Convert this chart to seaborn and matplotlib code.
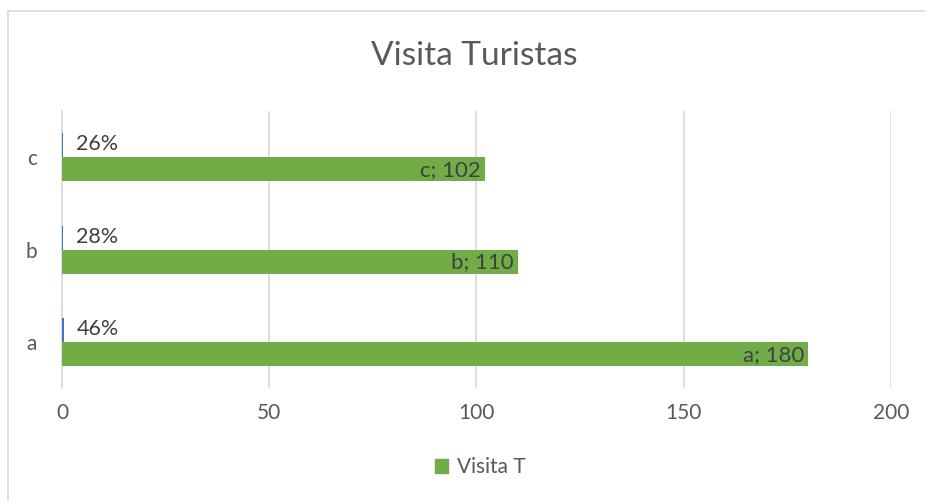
import pandas as pd
import matplotlib
matplotlib.use("Agg")
import matplotlib.pyplot as plt
import seaborn as sns
from matplotlib.patches import Patch, Rectangle

# datos del grafico
categorias = ["c", "b", "a"]
visitas = [102, 110, 180]
porcentajes = [0.26, 0.28, 0.46]
etiquetas_pct = ["26%", "28%", "46%"]

sns.set_style("white")
plt.rcParams["font.family"] = ["Lato", "DejaVu Sans"]

df = pd.DataFrame({
    "cat": categorias * 2,
    "valor": porcentajes + visitas,
    "serie": ["pct"] * 3 + ["Visita T"] * 3,
})

fig = plt.figure(figsize=(9.25, 5.01), dpi=100)
ax = fig.add_axes([62 / 925, 0.2255, (891 - 62) / 925, 0.7784 - 0.2255])

sns.barplot(data=df, y="cat", x="valor", hue="serie", order=categorias,
            hue_order=["pct", "Visita T"], palette=["#4472C4", "#70AD47"],
            orient="h", width=0.52, dodge=True, ax=ax, legend=False,
            saturation=1, linewidth=0)
for bar in ax.patches:
    bar.set_zorder(3)

ax.set_xlim(0, 200)
ax.set_ylim(2.5, -0.5)
ax.set_xticks([0, 50, 100, 150, 200])
ax.grid(axis="x", color="#d9d9d9", linewidth=1.2)
ax.set_axisbelow(True)
for s in ["top", "right", "bottom"]:
    ax.spines[s].set_visible(False)
ax.spines["left"].set_color("#d9d9d9")
ax.spines["left"].set_linewidth(1.2)
ax.spines["left"].set_zorder(1)
ax.tick_params(axis="both", length=0, labelsize=15, labelcolor="#595959")
ax.tick_params(axis="x", pad=11)
ax.tick_params(axis="y", pad=18)
ax.set_xlabel("")
ax.set_ylabel("")

# etiquetas de datos
for i, (c, v) in enumerate(zip(categorias, visitas)):
    ax.text(v - 1, i + 0.14, f"{c}; {v}", ha="right", va="center",
            fontsize=16, color="#404040", zorder=4)
for i, (p, t) in enumerate(zip(porcentajes, etiquetas_pct)):
    ax.text(p + 3.2, i - 0.14, t, ha="left", va="center",
            fontsize=15.5, color="#404040", zorder=4)

fig.text(474 / 925, 1 - 56 / 501, "Visita Turistas", ha="center", va="center",
         fontsize=24, color="#595959")

fig.legend(handles=[Patch(color="#70AD47", label="Visita T")],
           loc="center", bbox_to_anchor=(480 / 925, 1 - 467 / 501),
           frameon=False, fontsize=15, labelcolor="#595959",
           handlelength=0.65, handleheight=0.65, handletextpad=0.4)

fig.patches.append(Rectangle((8 / 925, -0.1), 1.0, 1 - 11 / 501 + 0.1,
                             transform=fig.transFigure, fill=False,
                             edgecolor="#d9d9d9", linewidth=1.2))

fig.savefig("out.png", dpi=100, facecolor="white")
